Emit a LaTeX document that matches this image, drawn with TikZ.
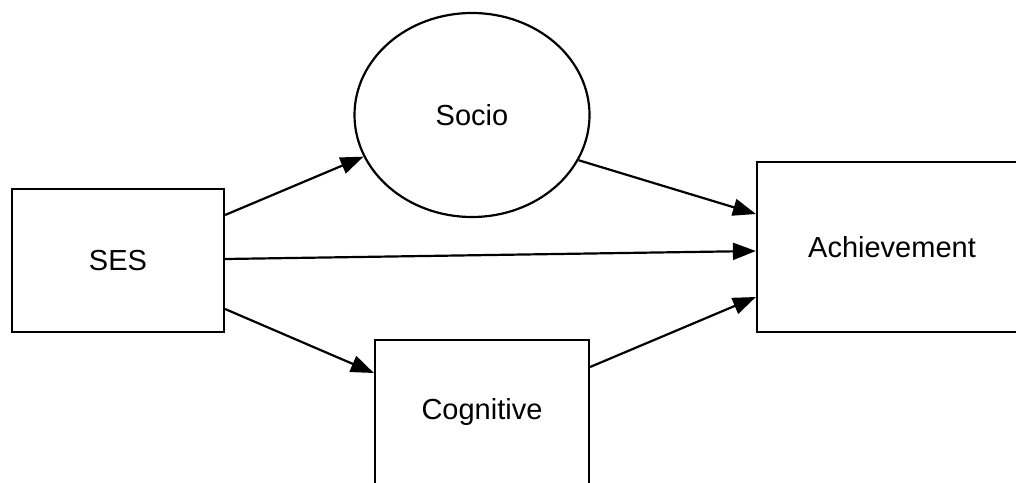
\documentclass[tikz,border=0pt]{standalone}
\usepackage{fontspec}
\setmainfont{Liberation Sans}
\usetikzlibrary{shapes.geometric,arrows.meta}
\tikzset{
  box/.style={draw=black,line width=2.2pt,rectangle,inner sep=0pt,font=\fontsize{29}{35}\selectfont},
  oval/.style={draw=black,line width=2.2pt,ellipse,inner sep=0pt,font=\fontsize{29}{35}\selectfont},
  link/.style={line width=2.2pt,-{Triangle[length=23pt,width=17pt]}}
}
\begin{document}
\begin{tikzpicture}[x=1pt,y=-1pt]
\useasboundingbox[fill=white] (0,0) rectangle (1016,482);
\clip (0,0) rectangle (1016,482);
\node[box,minimum width=212pt,minimum height=143pt] (ses) at (118,260.5) {SES};
\node[oval,minimum width=235pt,minimum height=204pt] (socio) at (472,115) {Socio};
\node[box,minimum width=270pt,minimum height=170pt] (ach) at (892,247) {Achievement};
\node[box,minimum width=214pt,minimum height=144pt] (cog) at (482,412) {Cognitive};
\draw[link] ([yshift=45.5pt]ses.east) -- (socio.201);
\draw[link] ([yshift=1.5pt]ses.east) -- ([yshift=-4pt]ach.west);
\draw[link] ([yshift=-48.5pt]ses.east) -- ([yshift=39pt]cog.west);
\draw[link] (socio.337.5) -- ([yshift=33pt]ach.west);
\draw[link] ([yshift=45pt]cog.east) -- ([yshift=-50pt]ach.west);
\end{tikzpicture}
\end{document}
